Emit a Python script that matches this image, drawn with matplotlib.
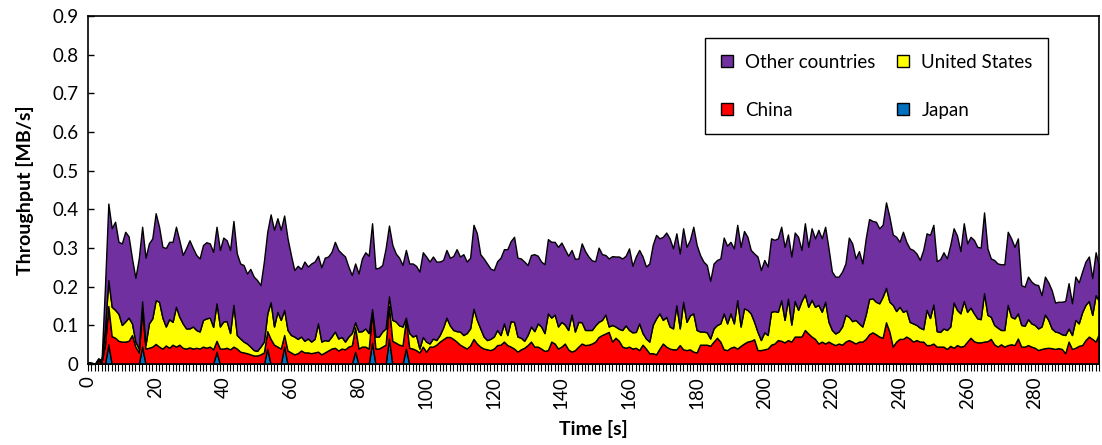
import numpy as np
import matplotlib
matplotlib.use('Agg')
import matplotlib.pyplot as plt
from matplotlib.ticker import FixedLocator, MultipleLocator, FuncFormatter

plt.rcParams['font.family'] = ['Lato', 'DejaVu Sans']

# throughput per country, kB/s, one value per second (t = 0..299)
japan_t = [6, 16, 38, 53, 58, 79, 84, 89, 94]
japan_v = [51, 45, 32, 40, 45, 32, 55, 66, 40]

china = [
    2, 1, 0, 8, 5, 50, 99, 72, 68, 60,
    58, 58, 60, 75, 45, 30, 95, 40, 42, 45,
    52, 45, 40, 48, 42, 50, 45, 50, 42, 40,
    43, 40, 42, 40, 45, 42, 45, 38, 28, 40,
    40, 42, 38, 45, 40, 32, 30, 28, 25, 22,
    22, 25, 30, 45, 65, 50, 45, 40, 30, 35,
    30, 25, 28, 35, 30, 30, 28, 30, 32, 25,
    30, 35, 40, 42, 35, 40, 38, 45, 48, 63,
    40, 45, 45, 40, 80, 40, 40, 45, 50, 84,
    60, 55, 50, 48, 75, 42, 40, 36, 30, 45,
    32, 45, 45, 50, 58, 64, 70, 70, 65, 58,
    50, 45, 40, 48, 65, 53, 45, 40, 38, 36,
    40, 49, 50, 58, 49, 45, 40, 32, 38, 42,
    49, 58, 45, 45, 40, 34, 36, 58, 53, 40,
    45, 53, 38, 32, 36, 45, 53, 49, 50, 53,
    58, 70, 75, 79, 83, 58, 68, 60, 45, 42,
    45, 40, 42, 36, 50, 40, 28, 28, 25, 40,
    53, 45, 40, 38, 38, 49, 38, 36, 38, 32,
    30, 50, 50, 50, 47, 58, 68, 58, 38, 36,
    42, 45, 40, 47, 53, 58, 60, 64, 36, 36,
    38, 40, 50, 53, 62, 60, 56, 62, 58, 71,
    71, 71, 88, 79, 71, 65, 53, 58, 53, 58,
    53, 49, 53, 50, 58, 62, 58, 53, 58, 58,
    65, 77, 82, 77, 71, 68, 108, 84, 45, 58,
    65, 65, 71, 66, 58, 62, 58, 58, 49, 49,
    53, 45, 45, 45, 39, 47, 42, 49, 45, 47,
    58, 68, 59, 56, 56, 58, 59, 65, 51, 45,
    51, 45, 49, 51, 49, 66, 45, 45, 49, 45,
    42, 36, 39, 41, 42, 41, 39, 41, 39, 28,
    58, 39, 42, 47, 49, 62, 71, 65, 58, 79,
]

united_states = [
    1, 1, 0, 3, 2, 40, 67, 76, 72, 70,
    43, 52, 60, 30, 13, 10, 22, 10, 63, 73,
    113, 116, 80, 49, 74, 59, 103, 72, 63, 52,
    49, 57, 46, 44, 69, 76, 75, 58, 97, 57,
    70, 69, 42, 108, 35, 34, 28, 25, 20, 14,
    12, 20, 28, 45, 95, 47, 90, 74, 65, 53,
    45, 46, 37, 36, 30, 36, 30, 35, 73, 33,
    32, 25, 31, 42, 31, 30, 20, 26, 32, 13,
    44, 40, 47, 40, 7, 31, 31, 39, 42, 25,
    54, 55, 50, 49, 5, 38, 31, 39, 10, 25,
    26, 8, 21, 12, 17, 30, 50, 30, 23, 27,
    34, 30, 40, 44, 78, 61, 47, 31, 24, 29,
    31, 39, 25, 47, 26, 66, 69, 39, 30, 18,
    26, 39, 40, 60, 57, 46, 95, 62, 75, 57,
    64, 49, 50, 96, 48, 64, 55, 39, 38, 35,
    42, 39, 39, 49, 14, 43, 29, 31, 43, 58,
    43, 42, 41, 69, 30, 26, 30, 73, 93, 91,
    61, 77, 57, 54, 114, 43, 123, 73, 88, 99,
    58, 34, 34, 32, 19, 34, 33, 47, 93, 69,
    89, 60, 125, 50, 91, 82, 71, 45, 47, 26,
    44, 35, 85, 84, 73, 105, 58, 107, 44, 92,
    69, 92, 92, 69, 95, 83, 100, 77, 108, 51,
    35, 30, 31, 47, 69, 60, 53, 61, 47, 39,
    63, 91, 88, 84, 86, 106, 89, 77, 108, 79,
    83, 70, 68, 43, 47, 39, 36, 32, 91, 70,
    101, 40, 38, 47, 49, 50, 117, 91, 86, 116,
    77, 78, 72, 62, 60, 125, 68, 57, 50, 49,
    37, 43, 104, 71, 69, 65, 56, 54, 67, 60,
    59, 56, 58, 87, 72, 51, 45, 41, 38, 47,
    34, 36, 72, 58, 85, 91, 92, 62, 120, 84,
]

other_countries = [
    2, 2, 0, 4, 3, 110, 198, 203, 228, 186,
    211, 232, 210, 168, 165, 233, 193, 225, 207, 207,
    225, 194, 183, 203, 200, 207, 207, 198, 177, 208,
    228, 203, 194, 189, 194, 197, 192, 194, 198, 198,
    217, 209, 215, 217, 211, 194, 198, 181, 201, 190,
    183, 159, 207, 212, 227, 250, 242, 233, 244, 237,
    207, 172, 189, 175, 205, 186, 202, 200, 175, 192,
    213, 218, 219, 232, 229, 216, 220, 181, 150, 152,
    150, 188, 197, 200, 222, 176, 178, 172, 207, 183,
    194, 176, 175, 159, 175, 180, 189, 179, 199, 219,
    220, 212, 212, 203, 190, 175, 175, 175, 191, 212,
    194, 209, 185, 183, 217, 224, 192, 202, 198, 182,
    172, 178, 200, 192, 222, 207, 220, 204, 205, 205,
    181, 185, 199, 175, 168, 178, 192, 196, 188, 206,
    205, 195, 192, 167, 188, 164, 204, 204, 190, 180,
    166, 192, 170, 154, 176, 178, 181, 187, 185, 180,
    211, 172, 195, 190, 198, 186, 202, 207, 216, 194,
    215, 218, 228, 207, 186, 194, 190, 194, 195, 224,
    220, 198, 181, 174, 149, 168, 168, 168, 196, 201,
    185, 194, 195, 206, 200, 189, 164, 177, 195, 181,
    187, 177, 190, 184, 190, 190, 189, 166, 176, 177,
    189, 132, 184, 155, 185, 177, 194, 190, 194, 190,
    151, 147, 142, 142, 133, 205, 201, 159, 187, 163,
    197, 207, 200, 207, 194, 186, 221, 220, 182, 192,
    168, 207, 177, 190, 190, 185, 175, 205, 198, 215,
    206, 181, 188, 197, 185, 211, 192, 192, 161, 201,
    177, 183, 190, 185, 185, 209, 172, 151, 168, 166,
    170, 170, 189, 203, 185, 194, 103, 101, 110, 108,
    105, 112, 81, 98, 97, 99, 75, 79, 84, 88,
    117, 82, 112, 106, 105, 112, 115, 95, 111, 89,
]

time_s = np.arange(len(china))
japan = np.zeros(len(time_s))
japan[japan_t] = japan_v

labels = ['Japan', 'China', 'United States', 'Other countries']
colors = ['#0070C0', '#FF0000', '#FFFF00', '#7030A0']

fig = plt.figure(figsize=(11.02, 4.45), dpi=100)
ax = fig.add_axes([0.0799, 0.182, 0.9174, 0.782])

polys = ax.stackplot(time_s,
                     japan / 1000, np.array(china) / 1000,
                     np.array(united_states) / 1000, np.array(other_countries) / 1000,
                     labels=labels, colors=colors,
                     edgecolor='black', linewidth=1.0)

ax.set_xlim(0, 299)
ax.set_ylim(0, 0.9)

# y axis
ax.yaxis.set_major_locator(MultipleLocator(0.1))
ax.yaxis.set_major_formatter(FuncFormatter(lambda v, p: '0' if abs(v) < 1e-9 else f'{v:.1f}'))
ax.tick_params(axis='y', direction='in', length=4, width=1, labelsize=13.5, pad=7)

# x axis: a tick per second, label every 20 s
ax.xaxis.set_major_locator(FixedLocator(list(range(0, 300, 20))))
ax.xaxis.set_minor_locator(MultipleLocator(1))
ax.tick_params(axis='x', which='both', direction='out', length=5, width=0.8)
ax.tick_params(axis='x', which='major', labelsize=13.5, labelrotation=90, pad=4)

for s in ax.spines.values():
    s.set_linewidth(1.2)
    s.set_color('black')

ax.set_xlabel('Time [s]', fontsize=14, fontweight='bold', labelpad=8)
ax.set_ylabel('Throughput [MB/s]', fontsize=14, fontweight='bold', labelpad=13)

# legend laid out like the original: Other/US on top, China/Japan below
h = {lab: p for lab, p in zip(labels, polys)}
order = ['Other countries', 'China', 'United States', 'Japan']
leg = ax.legend([h[k] for k in order], order, ncol=2, loc='upper right',
                bbox_to_anchor=(0.95, 0.937), borderaxespad=0, fontsize=13.5,
                frameon=True, fancybox=False, framealpha=1, edgecolor='black',
                handlelength=0.64, handleheight=0.64, handletextpad=0.64,
                labelspacing=1.65, columnspacing=1.17, borderpad=0.84)
leg.get_frame().set_linewidth(1.0)

fig.savefig('out.png', dpi=100)
